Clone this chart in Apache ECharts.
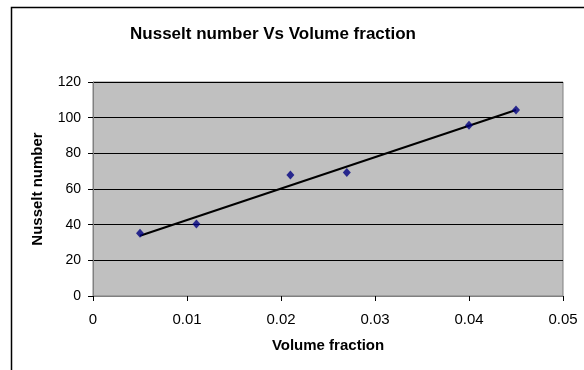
<!DOCTYPE html>
<html><head><meta charset="utf-8">
<script src="https://cdn.jsdelivr.net/npm/echarts@6/dist/echarts.min.js"></script>
<style>html,body{margin:0;padding:0;background:#fff;}#c{width:584px;height:370px;}</style>
</head><body><div id="c"></div>
<script>
var volumeFraction = [0.005, 0.011, 0.021, 0.027, 0.040, 0.045];
var nusselt = [35.2, 40.4, 67.9, 69.2, 95.7, 104.3];
var xTicks = [0, 0.01, 0.02, 0.03, 0.04, 0.05];
var yTicks = [0, 20, 40, 60, 80, 100, 120];

// linear least-squares trendline
var n = volumeFraction.length, mx = 0, my = 0;
for (var i = 0; i < n; i++) { mx += volumeFraction[i]; my += nusselt[i]; }
mx /= n; my /= n;
var sxy = 0, sxx = 0;
for (var i = 0; i < n; i++) { sxy += (volumeFraction[i]-mx)*(nusselt[i]-my); sxx += (volumeFraction[i]-mx)*(volumeFraction[i]-mx); }
var slope = sxy / sxx, icpt = my - slope * mx;
var x0 = Math.min.apply(null, volumeFraction), x1 = Math.max.apply(null, volumeFraction);
var trend = [[x0, icpt + slope * x0], [x1, icpt + slope * x1]];

var font = '"Liberation Sans", Arial, sans-serif';
var chart = echarts.init(document.getElementById('c'));
chart.setOption({
  animation: false,
  backgroundColor: '#ffffff',
  title: {
    text: 'Nusselt number Vs Volume fraction',
    left: 268, top: 21, textAlign: 'center',
    textStyle: { fontFamily: font, fontSize: 17, fontWeight: 'bold', color: '#000' }
  },
  graphic: [{
    type: 'rect', shape: { x: 11.5, y: 7.5, width: 700, height: 500 },
    style: { fill: 'none', stroke: '#000', lineWidth: 1.5 }, silent: true, z: -1
  }],
  grid: { left: 93, right: 21, top: 82, bottom: 74, show: true, backgroundColor: '#c0c0c0', borderColor: '#808080', borderWidth: 1 },
  xAxis: {
    type: 'value', min: 0, max: 0.05, interval: 0.01,
    name: 'Volume fraction', nameLocation: 'middle', nameGap: 42,
    nameTextStyle: { fontFamily: font, fontSize: 15, fontWeight: 'bold', color: '#000' },
    axisLine: { show: true, lineStyle: { color: '#808080', width: 1 } },
    axisTick: { show: true, length: 5, lineStyle: { color: '#000' } },
    axisLabel: { fontFamily: font, fontSize: 15, color: '#000', margin: 16, formatter: function (v) { return String(+v.toFixed(2)); } },
    splitLine: { show: false }
  },
  yAxis: {
    type: 'value', min: 0, max: 120, interval: 20,
    name: 'Nusselt number', nameLocation: 'middle', nameGap: 48, nameRotate: 90,
    nameTextStyle: { fontFamily: font, fontSize: 15, fontWeight: 'bold', color: '#000' },
    axisLine: { show: true, lineStyle: { color: '#808080', width: 1 } },
    axisTick: { show: true, length: 5, lineStyle: { color: '#000' } },
    axisLabel: { fontFamily: font, fontSize: 14, color: '#000', margin: 12 },
    splitLine: { show: true, lineStyle: { color: '#000', width: 1 } }
  },
  series: [
    { type: 'line', data: trend, symbol: 'none', lineStyle: { color: '#000', width: 2 }, z: 2 },
    { type: 'scatter', data: volumeFraction.map(function (x, i) { return [x, nusselt[i]]; }),
      symbol: 'diamond', symbolSize: [8, 9], itemStyle: { color: '#000080' }, z: 3 }
  ]
});
</script></body></html>
